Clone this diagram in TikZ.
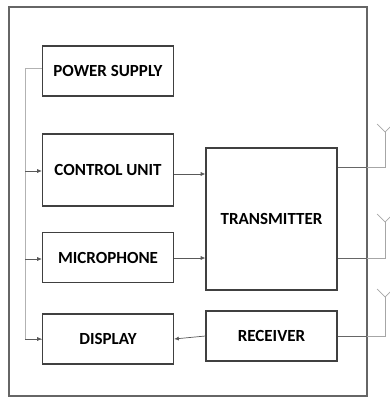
\documentclass[tikz,border=0pt]{standalone}
\usepackage{fontspec}
\setsansfont{Carlito}
\usepackage{tikz}
\usetikzlibrary{arrows.meta,positioning,calc}

\begin{document}
\begin{tikzpicture}[
    x=0.03cm, y=-0.03cm,
    box/.style={draw=black!75, line width=1pt, minimum width=3.93cm, minimum height=1.5cm, align=center, font=\sffamily\bfseries\fontsize{14.5}{16}\selectfont, text=black},
    arr/.style={-{Latex[length=4pt,width=3.5pt]}, draw=black!65, line width=0.6pt},
    bus/.style={draw=black!30, line width=0.6pt},
    ant/.style={draw=black!35, line width=0.6pt}
]
\useasboundingbox (0,0) rectangle (389,398);
\node[draw=black!60, line width=1.2pt, minimum width=10.74cm, minimum height=11.67cm] (dev) at (188,201.5) {};

\node[box] (pwr) at (108,71) {POWER SUPPLY};
\node[box, minimum height=2.16cm] (ctrl) at (108,170) {CONTROL UNIT};
\node[box] (mic) at (108,257.5) {MICROPHONE};
\node[box] (disp) at (108,339) {DISPLAY};
\node[box, minimum height=4.26cm] (tx) at (271.5,219) {TRANSMITTER};
\node[box] (rx) at (271.5,336) {RECEIVER};

% supply bus
\coordinate (bus) at (25,68);
\draw[bus] (pwr.west |- bus) -- (bus) |- (disp.west);
\draw[arr] (bus |- 0,171) -- (ctrl.west |- 0,171);
\draw[arr] (bus |- 0,259) -- (mic.west |- 0,259);
\draw[arr] (bus |- disp.west) -- (disp.west);

\draw[arr] (ctrl.east |- 0,174) -- (tx.west |- 0,174);
\draw[arr] (mic.east |- 0,258) -- (tx.west |- 0,258);
\draw[arr] (rx.west) -- (disp.east);

% antennas
\coordinate (a1) at (385,132);
\coordinate (a2) at (385,222);
\coordinate (a3) at (385,297);
\draw[draw=black!60, line width=0.6pt] (tx.east |- 0,167) -- (367,167);
\draw[ant] (367,167) -| (a1);
\draw[draw=black!60, line width=0.6pt] (tx.east |- 0,258) -- (367,258);
\draw[ant] (367,258) -| (a2);
\draw[draw=black!60, line width=0.6pt] (rx.east) -- (367,336);
\draw[ant] (367,336) -| (a3);
\foreach \a in {a1,a2,a3}
  \draw[ant] ($(\a)+(-8,-8)$) -- (\a) -- ($(\a)+(8,-8)$);
\end{tikzpicture}
\end{document}
